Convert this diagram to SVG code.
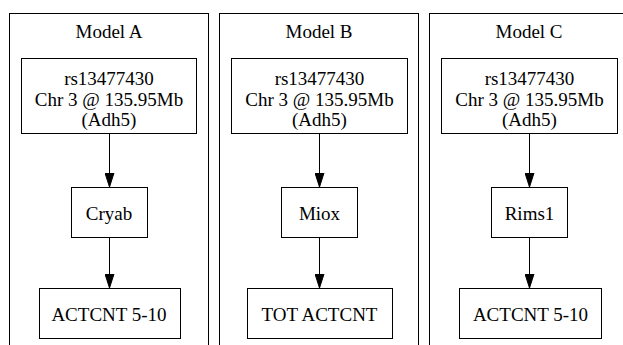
<svg xmlns="http://www.w3.org/2000/svg" width="623" height="345" viewBox="0 0 623 345">
  <defs>
    <style>
      .cluster { fill: #ffffff; stroke: #000000; stroke-width: 1; }
      .node rect { fill: #ffffff; stroke: #000000; stroke-width: 1; }
      .lbl { font-size: 19px; fill: #000000; text-anchor: middle; }
      .edge { stroke: #000000; stroke-width: 1; fill: none; }
    </style>
    <marker id="arrow" markerWidth="14" markerHeight="10" refX="14" refY="5" orient="auto" markerUnits="userSpaceOnUse">
      <path d="M0,0.5 L14,5 L0,9.5 Z" fill="#000000" stroke="#000000" stroke-width="1"/>
    </marker>
  </defs>
  <rect x="0" y="0" width="623" height="345" fill="#ffffff"/>

  <g font-family="Liberation Serif, Times New Roman, DejaVu Serif, serif">
  <!-- Model A -->
  <g id="clusterA">
    <rect class="cluster" x="9.5" y="13.5" width="199" height="360"/>
    <text class="lbl" x="109" y="38">Model A</text>
  </g>
  <g id="snpA" class="node">
    <rect x="21.5" y="58.5" width="175" height="75"/>
    <text class="lbl" x="109" y="85">rs13477430</text>
    <text class="lbl" x="109" y="105.5">Chr 3 @ 135.95Mb</text>
    <text class="lbl" x="109" y="126">(Adh5)</text>
  </g>
  <g id="cryab" class="node">
    <rect x="71.5" y="187.5" width="76" height="50"/>
    <text class="lbl" x="109" y="219.5">Cryab</text>
  </g>
  <g id="actcntA" class="node">
    <rect x="39.5" y="288.5" width="141" height="50"/>
    <text class="lbl" x="109" y="320.5">ACTCNT 5-10</text>
  </g>

  <!-- Model B -->
  <g id="clusterB">
    <rect class="cluster" x="219.5" y="13.5" width="199" height="360"/>
    <text class="lbl" x="319" y="38">Model B</text>
  </g>
  <g id="snpB" class="node">
    <rect x="231.5" y="58.5" width="176" height="75"/>
    <text class="lbl" x="319.5" y="85">rs13477430</text>
    <text class="lbl" x="319.5" y="105.5">Chr 3 @ 135.95Mb</text>
    <text class="lbl" x="319.5" y="126">(Adh5)</text>
  </g>
  <g id="miox" class="node">
    <rect x="281.5" y="187.5" width="76" height="50"/>
    <text class="lbl" x="319.5" y="219.5">Miox</text>
  </g>
  <g id="totactcnt" class="node">
    <rect x="247.5" y="288.5" width="145" height="50"/>
    <text class="lbl" x="319.5" y="320.5">TOT ACTCNT</text>
  </g>

  <!-- Model C -->
  <g id="clusterC">
    <rect class="cluster" x="429.5" y="13.5" width="199" height="360"/>
    <text class="lbl" x="529" y="38">Model C</text>
  </g>
  <g id="snpC" class="node">
    <rect x="441.5" y="58.5" width="176" height="75"/>
    <text class="lbl" x="529.5" y="85">rs13477430</text>
    <text class="lbl" x="529.5" y="105.5">Chr 3 @ 135.95Mb</text>
    <text class="lbl" x="529.5" y="126">(Adh5)</text>
  </g>
  <g id="rims1" class="node">
    <rect x="491.5" y="187.5" width="76" height="50"/>
    <text class="lbl" x="529.5" y="219.5">Rims1</text>
  </g>
  <g id="actcntC" class="node">
    <rect x="459.5" y="288.5" width="142" height="50"/>
    <text class="lbl" x="530.5" y="320.5">ACTCNT 5-10</text>
  </g>
  </g>

  <!-- connectors -->
  <g id="edges">
    <line class="edge" x1="109.5" y1="134" x2="109.5" y2="187" marker-end="url(#arrow)"/>
    <line class="edge" x1="109.5" y1="238" x2="109.5" y2="288" marker-end="url(#arrow)"/>
    <line class="edge" x1="319.5" y1="134" x2="319.5" y2="187" marker-end="url(#arrow)"/>
    <line class="edge" x1="319.5" y1="238" x2="319.5" y2="288" marker-end="url(#arrow)"/>
    <line class="edge" x1="529.5" y1="134" x2="529.5" y2="187" marker-end="url(#arrow)"/>
    <line class="edge" x1="529.5" y1="238" x2="529.5" y2="288" marker-end="url(#arrow)"/>
  </g>
</svg>
